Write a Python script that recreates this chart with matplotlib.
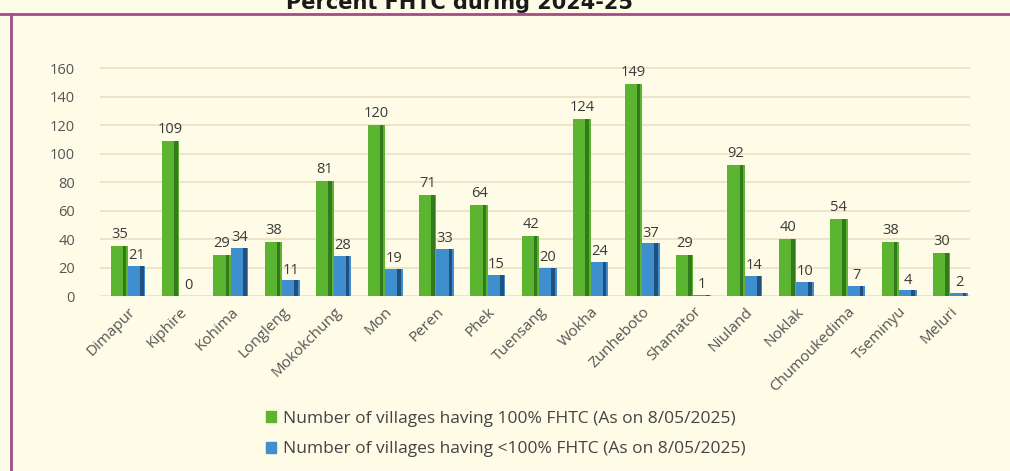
import matplotlib.pyplot as plt
import numpy as np

districts = ['Dimapur', 'Kiphire', 'Kohima', 'Longleng', 'Mokokchung', 'Mon', 'Peren',
             'Phek', 'Tuensang', 'Wokha', 'Zunheboto', 'Shamator', 'Niuland', 'Noklak',
             'Chumoukedima', 'Tseminyu', 'Meluri']
full_fhtc = [35, 109, 29, 38, 81, 120, 71, 64, 42, 124, 149, 29, 92, 40, 54, 38, 30]
partial_fhtc = [21, 0, 34, 11, 28, 19, 33, 15, 20, 24, 37, 1, 14, 10, 7, 4, 2]
label_full = 'Number of villages having 100% FHTC (As on 8/05/2025)'
label_partial = 'Number of villages having <100% FHTC (As on 8/05/2025)'
title = 'Percent FHTC during 2024-25'

plt.rcParams['font.family'] = ['Open Sans', 'DejaVu Sans']

bg = '#fefbe6'
green, green_dark = '#5cb531', '#327a1c'
blue, blue_dark = '#3f8fcf', '#22507e'

fig = plt.figure(figsize=(10.1, 4.71), dpi=100, facecolor=bg)
W, H = 1010, 471

# frame lines (top and left)
fig.add_artist(plt.Line2D([0, 1], [1 - 14 / H, 1 - 14 / H], color='#a44a86', lw=2))
fig.add_artist(plt.Line2D([11 / W, 11 / W], [0, 1 - 14 / H], color='#a44a86', lw=2))

# title is partly cut off at the top, like the source image
fig.text(460 / W, 1 - 9 / H, title, ha='center', va='baseline', fontsize=15,
         fontweight='bold', color='#1a1a1a', family='DejaVu Sans')

ax = fig.add_axes([100 / W, 175 / H, 870 / W, 242 / H])
ax.set_facecolor(bg)
x = np.arange(len(districts))
w = 0.34

def bars(xpos, vals, c, cd):
    ax.bar(xpos, vals, w, color=c, zorder=3)
    ax.bar(xpos + w * 0.3, vals, w * 0.2, color=cd, zorder=3)

bars(x - w / 2, full_fhtc, green, green_dark)
bars(x + w / 2, partial_fhtc, blue, blue_dark)

for i in range(len(districts)):
    ax.annotate(str(full_fhtc[i]), (x[i] - w / 2, full_fhtc[i]), xytext=(0, 3),
                textcoords='offset points', ha='center', va='bottom', fontsize=10.5,
                color='#3a3a3a', zorder=5)
    ax.annotate(str(partial_fhtc[i]), (x[i] + w / 2, partial_fhtc[i]), xytext=(0, 2),
                textcoords='offset points', ha='center', va='bottom', fontsize=10.5,
                color='#3a3a3a', zorder=5)

ax.set_xlim(-0.545, 16.38)
ax.set_ylim(0, 170)
ax.set_yticks(range(0, 161, 20))
ax.tick_params(axis='y', length=0, labelsize=10.5, labelcolor='#555555', pad=18)
ax.tick_params(axis='x', length=0, pad=6)
ax.set_xticks(x)
ax.set_xticklabels(districts, rotation=45, ha='right', rotation_mode='anchor',
                   fontsize=11, color='#555555')
ax.grid(axis='y', color='#ece2c6', lw=1.3, zorder=0)
for s in ax.spines.values():
    s.set_visible(False)

handles = [plt.Rectangle((0, 0), 1, 1, color=green), plt.Rectangle((0, 0), 1, 1, color=blue)]
fig.legend(handles, [label_full, label_partial], loc='upper left',
           bbox_to_anchor=(250 / W, 1 - 395 / H), frameon=False, fontsize=12.5,
           handlelength=0.6, handleheight=0.6, handletextpad=0.4, labelspacing=0.85,
           labelcolor='#444444')

fig.savefig('out.png', dpi=100, facecolor=bg)
